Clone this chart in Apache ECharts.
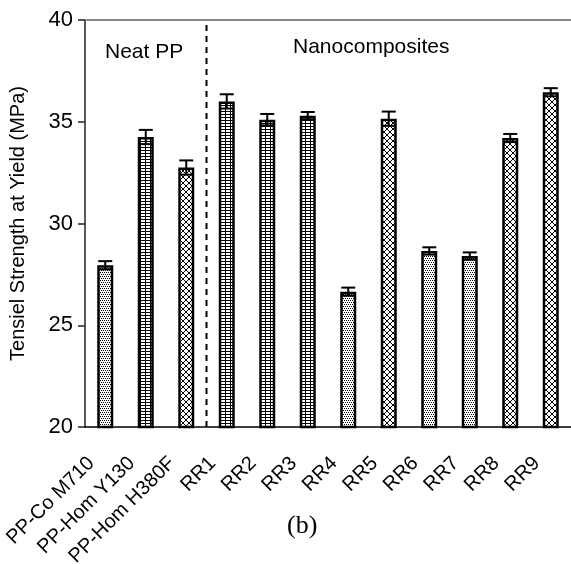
<!DOCTYPE html>
<html>
<head>
<meta charset="utf-8">
<script src="https://cdn.jsdelivr.net/npm/echarts@6/dist/echarts.min.js"></script>
<style>
  html, body { margin: 0; padding: 0; background: #fff; }
  #chart { width: 571px; height: 564px; }
</style>
</head>
<body>
<div id="chart"></div>
<script>
const categories = ['PP-Co M710', 'PP-Hom Y130', 'PP-Hom H380F', 'RR1', 'RR2', 'RR3', 'RR4', 'RR5', 'RR6', 'RR7', 'RR8', 'RR9'];
const strength = [27.95, 34.25, 32.75, 36.0, 35.1, 35.3, 26.65, 35.15, 28.65, 28.4, 34.2, 36.45];
const errors = [0.2, 0.35, 0.35, 0.35, 0.28, 0.18, 0.2, 0.35, 0.18, 0.18, 0.2, 0.2];
const fills = ['dots', 'grid', 'cross', 'grid', 'grid', 'grid', 'dots', 'cross', 'dots', 'dots', 'cross', 'cross'];
const yTicks = [20, 25, 30, 35, 40];
const dividerAt = 3; // boundary between neat PP and nanocomposites

const FONT = 'Liberation Sans';

// hatch tiles like the old Excel fills
function tile(kind) {
  const c = document.createElement('canvas');
  const ctx = c.getContext('2d');
  if (kind === 'dots') {
    c.width = 4; c.height = 4;
    ctx.fillStyle = '#fff'; ctx.fillRect(0, 0, 4, 4);
    ctx.fillStyle = '#000';
    ctx.fillRect(0, 0, 1, 1); ctx.fillRect(2, 0, 1, 1);
    ctx.fillRect(1, 2, 1, 1); ctx.fillRect(3, 2, 1, 1);
  } else if (kind === 'grid') {
    c.width = 5; c.height = 3;
    ctx.fillStyle = '#fff'; ctx.fillRect(0, 0, 5, 3);
    ctx.fillStyle = '#000';
    ctx.fillRect(0, 0, 5, 1); ctx.fillRect(0, 0, 1, 3);
  } else {
    c.width = 6; c.height = 6;
    ctx.fillStyle = '#fff'; ctx.fillRect(0, 0, 6, 6);
    ctx.fillStyle = '#000';
    for (let i = 0; i < 6; i++) { ctx.fillRect(i, i, 1, 1); ctx.fillRect(5 - i, i, 1, 1); }
  }
  return { image: c, repeat: 'repeat' };
}
const patterns = { dots: tile('dots'), grid: tile('grid'), cross: tile('cross') };

const chart = echarts.init(document.getElementById('chart'));

chart.setOption({
  animation: false,
  backgroundColor: '#fff',
  grid: { left: 85, right: 0, top: 20, bottom: 137, containLabel: false, outerBoundsMode: 'none' },
  xAxis: [{
    type: 'category',
    data: categories,
    axisLine: { lineStyle: { color: '#000', width: 1.5 } },
    axisTick: { length: 7, lineStyle: { color: '#000', width: 1.5 } },
    axisLabel: {
      interval: 0, rotate: 45, margin: 19, padding: [0, 20, 0, 0],
      fontFamily: FONT, fontSize: 20, color: '#000'
    }
  }, {
    type: 'value', min: 0, max: categories.length, position: 'top',
    axisLine: { show: true, lineStyle: { color: '#888', width: 2 } },
    axisTick: { show: false }, axisLabel: { show: false }, splitLine: { show: false }
  }],
  yAxis: {
    type: 'value',
    min: yTicks[0], max: yTicks[yTicks.length - 1], interval: 5,
    name: 'Tensiel Strength at Yield (MPa)',
    nameLocation: 'middle', nameGap: 57,
    nameTextStyle: { fontFamily: FONT, fontSize: 20, color: '#000' },
    axisLine: { show: true, lineStyle: { color: '#222', width: 1.5 } },
    axisTick: { show: true, length: 7, lineStyle: { color: '#222', width: 1.5 } },
    axisLabel: { margin: 12, fontFamily: FONT, fontSize: 22, color: '#000' },
    splitLine: { show: false }
  },
  series: [{
    type: 'bar',
    barWidth: 16,
    data: strength.map((v, i) => ({
      value: v,
      itemStyle: { color: patterns[fills[i]], borderColor: '#000', borderWidth: 2.5 }
    }))
  }, {
    type: 'custom',
    z: 5,
    data: strength.map((v, i) => [i, v - errors[i], v + errors[i]]),
    renderItem: (params, api) => {
      const lo = api.coord([api.value(0), api.value(1)]);
      const hi = api.coord([api.value(0), api.value(2)]);
      const w = 7;
      const st = { stroke: '#000', lineWidth: 2 };
      return {
        type: 'group',
        children: [
          { type: 'line', shape: { x1: hi[0], y1: hi[1], x2: lo[0], y2: lo[1] }, style: st },
          { type: 'line', shape: { x1: hi[0] - w, y1: hi[1], x2: hi[0] + w, y2: hi[1] }, style: st },
          { type: 'line', shape: { x1: lo[0] - w, y1: lo[1], x2: lo[0] + w, y2: lo[1] }, style: st }
        ]
      };
    }
  }, {
    type: 'line',
    xAxisIndex: 1,
    symbol: 'none',
    data: [[dividerAt, yTicks[0]], [dividerAt, yTicks[yTicks.length - 1]]],
    lineStyle: { color: '#000', width: 2, type: [6, 5] }
  }],
  graphic: [
    { type: 'text', left: 105, top: 42, style: { text: 'Neat PP', font: '21px "Liberation Sans"', fill: '#000' } },
    { type: 'text', left: 293, top: 37, style: { text: 'Nanocomposites', font: '21px "Liberation Sans"', fill: '#000' } },
    { type: 'text', left: 287, top: 513, style: { text: '(b)', font: '26px "Liberation Serif"', fill: '#000' } }
  ]
});
</script>
</body>
</html>
